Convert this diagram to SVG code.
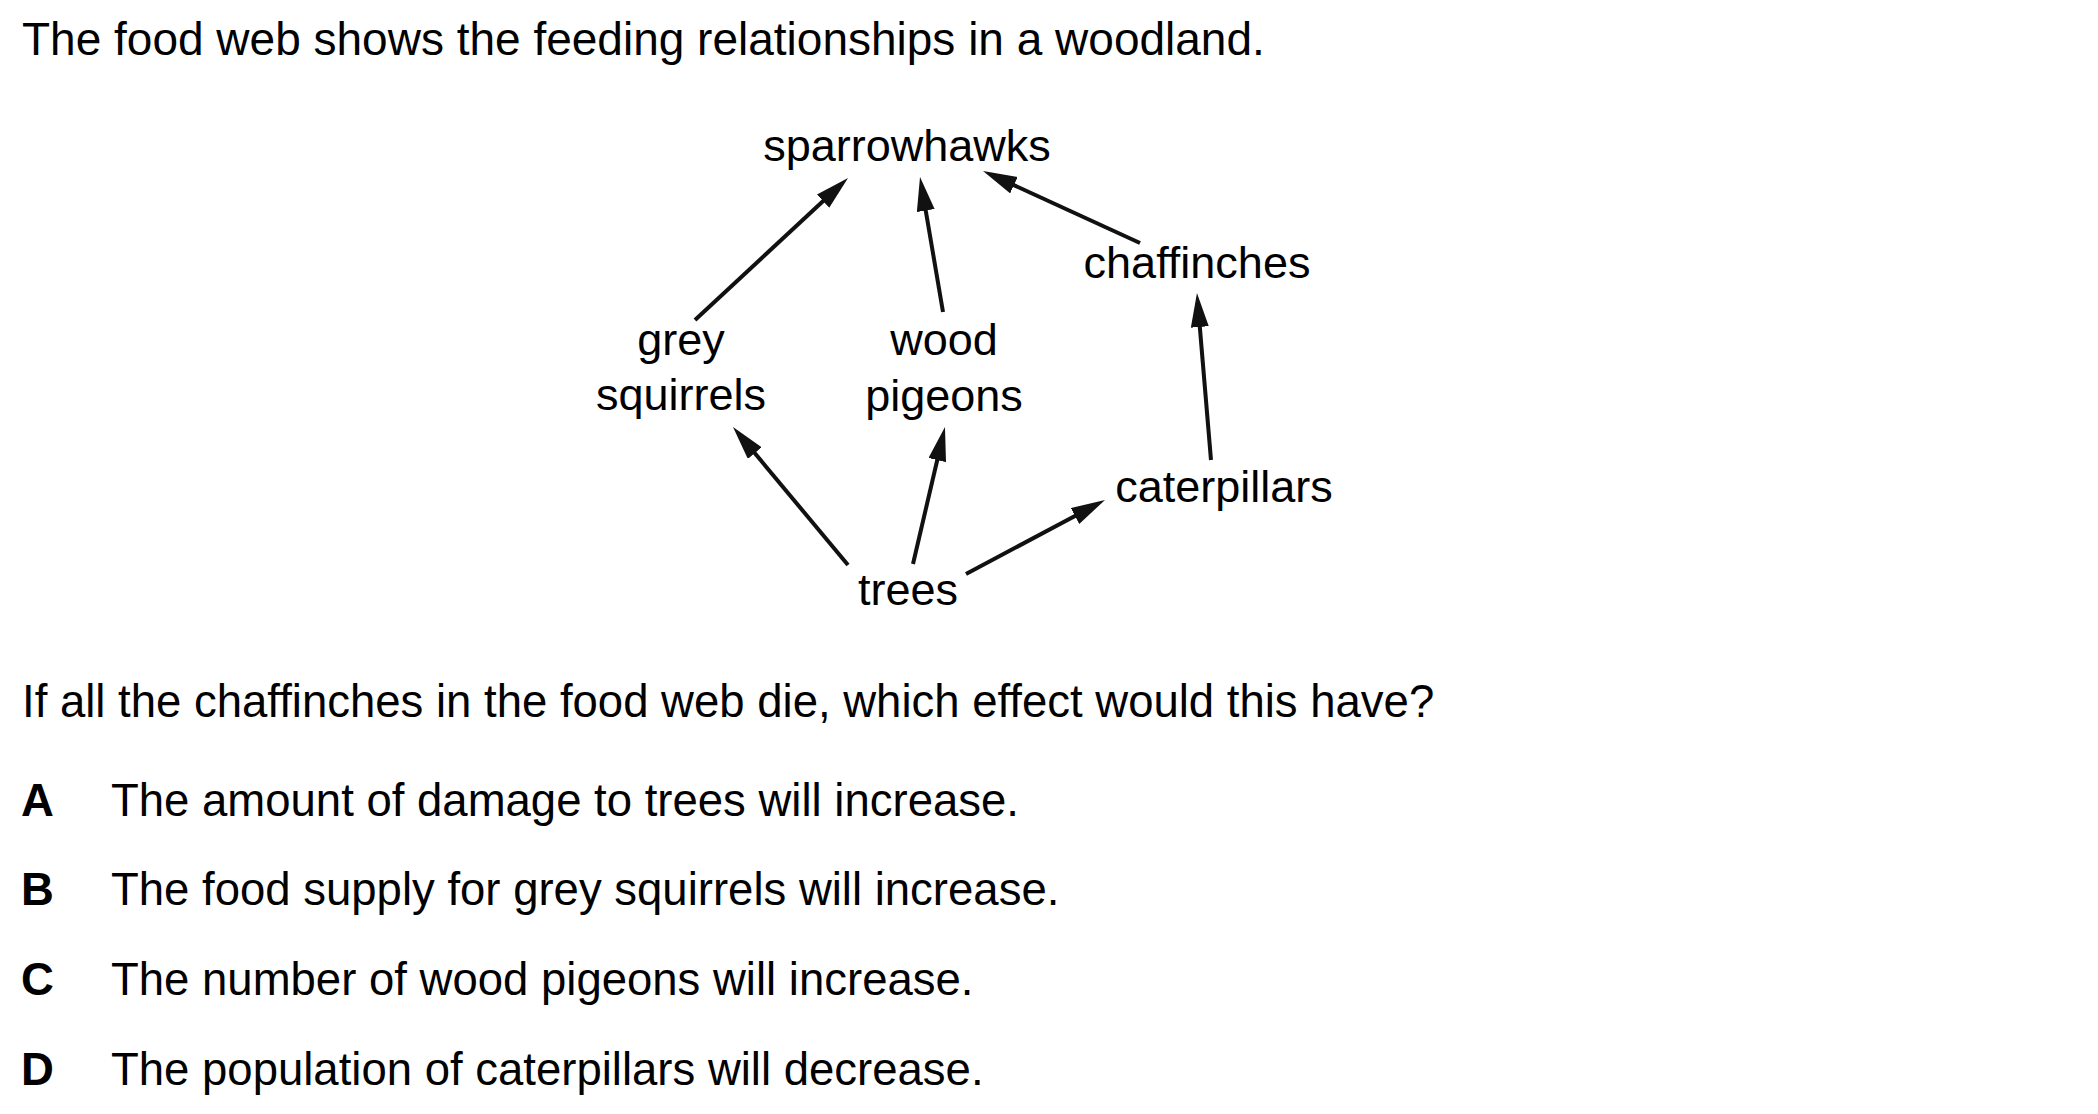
<svg xmlns="http://www.w3.org/2000/svg" width="2098" height="1114" viewBox="0 0 2098 1114">
<style>
  text { font-family: "Liberation Sans", Arial, sans-serif; fill: #000; }
  .body { font-size: 45.5px; }
  .title { font-size: 46px; }
  .lbl { font-size: 45px; text-anchor: middle; }
  .opt { font-weight: bold; }
  .edge { stroke: #111; stroke-width: 4; fill: none; marker-end: url(#ah); }
</style>
<defs>
  <marker id="ah" markerUnits="userSpaceOnUse" markerWidth="36" markerHeight="20" refX="24" refY="9" orient="auto" viewBox="0 0 36 20">
    <path d="M0,0 L34,9 L0,18 z" fill="#111"/>
  </marker>
</defs>
<rect width="2098" height="1114" fill="#fff"/>
<text class="title" x="22" y="55">The food web shows the feeding relationships in a woodland.</text>

<g id="connectors">
  <line class="edge" x1="695" y1="320" x2="840.7" y2="184.8"/>
  <line class="edge" x1="943" y1="312" x2="921.7" y2="186.9"/>
  <line class="edge" x1="1140" y1="243" x2="992.1" y2="175.2"/>
  <line class="edge" x1="1211" y1="460" x2="1197.8" y2="303"/>
  <line class="edge" x1="848" y1="565" x2="739.4" y2="434.7"/>
  <line class="edge" x1="913" y1="564" x2="942.7" y2="436.7"/>
  <line class="edge" x1="966" y1="574" x2="1096.2" y2="504.7"/>
</g>

<g id="sparrowhawks"><text class="lbl" x="907" y="161">sparrowhawks</text></g>
<g id="chaffinches"><text class="lbl" x="1197" y="278">chaffinches</text></g>
<g id="grey-squirrels"><text class="lbl" x="681" y="355">grey</text><text class="lbl" x="681" y="410">squirrels</text></g>
<g id="wood-pigeons"><text class="lbl" x="944" y="355">wood</text><text class="lbl" x="944" y="411">pigeons</text></g>
<g id="caterpillars"><text class="lbl" x="1224" y="502">caterpillars</text></g>
<g id="trees"><text class="lbl" x="908" y="605">trees</text></g>

<text class="body" x="22" y="717">If all the chaffinches in the food web die, which effect would this have?</text>
<text class="body opt" x="21" y="816">A</text>
<text class="body" x="111" y="816">The amount of damage to trees will increase.</text>
<text class="body opt" x="21" y="905">B</text>
<text class="body" x="111" y="905">The food supply for grey squirrels will increase.</text>
<text class="body opt" x="21" y="995">C</text>
<text class="body" x="111" y="995">The number of wood pigeons will increase.</text>
<text class="body opt" x="21" y="1085">D</text>
<text class="body" x="111" y="1085">The population of caterpillars will decrease.</text>
</svg>
